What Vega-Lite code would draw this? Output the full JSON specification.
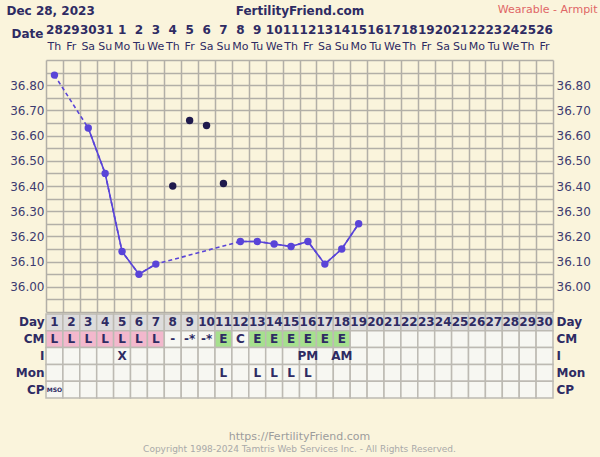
{
  "$schema": "https://vega.github.io/schema/vega-lite/v6.json",
  "background": "#faf4dc",
  "padding": {"left": 6, "top": 3, "right": 3, "bottom": 5},
  "bounds": "flush",
  "spacing": 2,
  "config": {
    "view": {"stroke": null},
    "font": "DejaVu Sans",
    "axis": {"labelFont": "DejaVu Sans", "titleFont": "DejaVu Sans"},
    "title": {"font": "DejaVu Sans", "subtitleFont": "DejaVu Sans"}
  },
  "datasets": {
    "days": [
      {"Day": 1, "date": "28", "dow": "Th", "bbt": 36.84, "disc": null, "CM": "L", "I": "", "Mon": "", "CP": "MSO"},
      {"Day": 2, "date": "29", "dow": "Fr", "bbt": null, "disc": null, "CM": "L", "I": "", "Mon": "", "CP": ""},
      {"Day": 3, "date": "30", "dow": "Sa", "bbt": 36.63, "disc": null, "CM": "L", "I": "", "Mon": "", "CP": ""},
      {"Day": 4, "date": "31", "dow": "Su", "bbt": 36.45, "disc": null, "CM": "L", "I": "", "Mon": "", "CP": ""},
      {"Day": 5, "date": "1", "dow": "Mo", "bbt": 36.14, "disc": null, "CM": "L", "I": "X", "Mon": "", "CP": ""},
      {"Day": 6, "date": "2", "dow": "Tu", "bbt": 36.05, "disc": null, "CM": "L", "I": "", "Mon": "", "CP": ""},
      {"Day": 7, "date": "3", "dow": "We", "bbt": 36.09, "disc": null, "CM": "L", "I": "", "Mon": "", "CP": ""},
      {"Day": 8, "date": "4", "dow": "Th", "bbt": null, "disc": 36.40, "CM": "-", "I": "", "Mon": "", "CP": ""},
      {"Day": 9, "date": "5", "dow": "Fr", "bbt": null, "disc": 36.66, "CM": "-*", "I": "", "Mon": "", "CP": ""},
      {"Day": 10, "date": "6", "dow": "Sa", "bbt": null, "disc": 36.64, "CM": "-*", "I": "", "Mon": "", "CP": ""},
      {"Day": 11, "date": "7", "dow": "Su", "bbt": null, "disc": 36.41, "CM": "E", "I": "", "Mon": "L", "CP": ""},
      {"Day": 12, "date": "8", "dow": "Mo", "bbt": 36.18, "disc": null, "CM": "C", "I": "", "Mon": "", "CP": ""},
      {"Day": 13, "date": "9", "dow": "Tu", "bbt": 36.18, "disc": null, "CM": "E", "I": "", "Mon": "L", "CP": ""},
      {"Day": 14, "date": "10", "dow": "We", "bbt": 36.17, "disc": null, "CM": "E", "I": "", "Mon": "L", "CP": ""},
      {"Day": 15, "date": "11", "dow": "Th", "bbt": 36.16, "disc": null, "CM": "E", "I": "", "Mon": "L", "CP": ""},
      {"Day": 16, "date": "12", "dow": "Fr", "bbt": 36.18, "disc": null, "CM": "E", "I": "PM", "Mon": "L", "CP": ""},
      {"Day": 17, "date": "13", "dow": "Sa", "bbt": 36.09, "disc": null, "CM": "E", "I": "", "Mon": "", "CP": ""},
      {"Day": 18, "date": "14", "dow": "Su", "bbt": 36.15, "disc": null, "CM": "E", "I": "AM", "Mon": "", "CP": ""},
      {"Day": 19, "date": "15", "dow": "Mo", "bbt": 36.25, "disc": null, "CM": "", "I": "", "Mon": "", "CP": ""},
      {"Day": 20, "date": "16", "dow": "Tu", "bbt": null, "disc": null, "CM": "", "I": "", "Mon": "", "CP": ""},
      {"Day": 21, "date": "17", "dow": "We", "bbt": null, "disc": null, "CM": "", "I": "", "Mon": "", "CP": ""},
      {"Day": 22, "date": "18", "dow": "Th", "bbt": null, "disc": null, "CM": "", "I": "", "Mon": "", "CP": ""},
      {"Day": 23, "date": "19", "dow": "Fr", "bbt": null, "disc": null, "CM": "", "I": "", "Mon": "", "CP": ""},
      {"Day": 24, "date": "20", "dow": "Sa", "bbt": null, "disc": null, "CM": "", "I": "", "Mon": "", "CP": ""},
      {"Day": 25, "date": "21", "dow": "Su", "bbt": null, "disc": null, "CM": "", "I": "", "Mon": "", "CP": ""},
      {"Day": 26, "date": "22", "dow": "Mo", "bbt": null, "disc": null, "CM": "", "I": "", "Mon": "", "CP": ""},
      {"Day": 27, "date": "23", "dow": "Tu", "bbt": null, "disc": null, "CM": "", "I": "", "Mon": "", "CP": ""},
      {"Day": 28, "date": "24", "dow": "We", "bbt": null, "disc": null, "CM": "", "I": "", "Mon": "", "CP": ""},
      {"Day": 29, "date": "25", "dow": "Th", "bbt": null, "disc": null, "CM": "", "I": "", "Mon": "", "CP": ""},
      {"Day": 30, "date": "26", "dow": "Fr", "bbt": null, "disc": null, "CM": "", "I": "", "Mon": "", "CP": ""}
    ]
  },
  "vconcat": [
    {
      "width": 507,
      "height": 37,
      "data": {"name": "days"},
      "layer": [
        {
          "mark": {"type": "text", "fontWeight": "bold", "fontSize": 12, "color": "#2e2b63"},
          "encoding": {
            "x": {"field": "Day", "type": "ordinal", "scale": {"type": "band", "paddingInner": 0, "paddingOuter": 0},
              "axis": {"orient": "top", "labels": false, "ticks": false, "domain": false, "grid": false,
                "title": "FertilityFriend.com", "titleX": 253.5, "titleY": -11, "titleAlign": "center", "titleBaseline": "middle",
                "titleFontSize": 12, "titleFontWeight": "bold", "titleColor": "#2e2b63"}},
            "y": {"datum": "date", "type": "nominal", "scale": {"domain": ["date", "dow"], "paddingInner": 0, "paddingOuter": 0},
              "axis": {"orient": "left", "ticks": false, "domain": false, "labelExpr": "datum.value == 'date' ? 'Date' : ''",
                "labelFontWeight": "bold", "labelFontSize": 12, "labelColor": "#2e2b63", "labelPadding": 3, "labelOffset": 3,
                "title": "Dec 28, 2023", "titleAngle": 0, "titleAlign": "left", "titleBaseline": "middle", "titleX": -40, "titleY": -11,
                "titleFontSize": 12, "titleFontWeight": "bold", "titleColor": "#2e2b63"}},
            "text": {"field": "date"}
          }
        },
        {
          "mark": {"type": "text", "fontSize": 11, "color": "#2e2b63", "dy": -2},
          "encoding": {
            "x": {"field": "Day", "type": "ordinal", "scale": {"type": "band", "paddingInner": 0, "paddingOuter": 0},
              "axis": {"orient": "top", "labels": false, "ticks": false, "domain": false, "grid": false,
                "title": "FertilityFriend.com", "titleX": 253.5, "titleY": -11, "titleAlign": "center", "titleBaseline": "middle",
                "titleFontSize": 12, "titleFontWeight": "bold", "titleColor": "#2e2b63"}},
            "y": {"datum": "dow", "type": "nominal",
              "axis": {"orient": "right", "labels": false, "ticks": false, "domain": false,
                "title": "Wearable - Armpit", "titleAngle": 0, "titleAlign": "right", "titleBaseline": "middle", "titleX": 44, "titleY": -12,
                "titleFontSize": 11, "titleFontWeight": "normal", "titleColor": "#e06666"}},
            "text": {"field": "dow"}
          }
        }
      ],
      "resolve": {"axis": {"y": "independent"}}
    },
    {
      "width": 507,
      "height": 252,
      "data": {"name": "days"},
      "encoding": {
        "x": {"field": "Day", "type": "quantitative", "scale": {"domain": [0.5, 30.5], "nice": false, "zero": false},
          "axis": {"values": [0.5, 1.5, 2.5, 3.5, 4.5, 5.5, 6.5, 7.5, 8.5, 9.5, 10.5, 11.5, 12.5, 13.5, 14.5, 15.5, 16.5, 17.5, 18.5, 19.5, 20.5, 21.5, 22.5, 23.5, 24.5, 25.5, 26.5, 27.5, 28.5, 29.5, 30.5],
            "grid": true, "gridColor": "#b2afa7", "gridWidth": 1.5, "labels": false, "ticks": false, "domain": false, "title": null}}
      },
      "layer": [
        {
          "transform": [{"filter": {"field": "bbt", "valid": true}}],
          "mark": {"type": "line", "color": "#5944d8", "strokeWidth": 1.6, "strokeDash": [4, 3]},
          "encoding": {
            "y": {"field": "bbt", "type": "quantitative", "scale": {"domain": [35.9, 36.9], "nice": false, "zero": false},
              "axis": {"orient": "left", "values": [35.9, 35.95, 36, 36.05, 36.1, 36.15, 36.2, 36.25, 36.3, 36.35, 36.4, 36.45, 36.5, 36.55, 36.6, 36.65, 36.7, 36.75, 36.8, 36.85, 36.9],
                "grid": true, "gridColor": "#b2afa7", "gridWidth": 1.5, "ticks": false, "domain": false, "title": null,
                "labelOverlap": false, "labelFlush": false, "labelFontSize": 12, "labelColor": "#3d3b70", "labelPadding": 2,
                "labelExpr": "(datum.value > 35.99 && datum.value < 36.81 && abs(datum.value * 10 - round(datum.value * 10)) < 0.01) ? format(datum.value, '.2f') : ''"}}
          }
        },
        {
          "mark": {"type": "line", "color": "#5944d8", "strokeWidth": 1.6, "invalid": "break-paths-show-domains"},
          "encoding": {"y": {"field": "bbt", "type": "quantitative", "axis": null}}
        },
        {
          "transform": [{"filter": {"field": "bbt", "valid": true}}],
          "mark": {"type": "circle", "color": "#5944d8", "size": 55, "opacity": 1},
          "encoding": {"y": {"field": "bbt", "type": "quantitative", "axis": null}}
        },
        {
          "transform": [{"filter": {"field": "disc", "valid": true}}],
          "mark": {"type": "circle", "color": "#1f1a4d", "size": 55, "opacity": 1},
          "encoding": {
            "y": {"field": "disc", "type": "quantitative",
              "axis": {"orient": "right", "values": [35.9, 35.95, 36, 36.05, 36.1, 36.15, 36.2, 36.25, 36.3, 36.35, 36.4, 36.45, 36.5, 36.55, 36.6, 36.65, 36.7, 36.75, 36.8, 36.85, 36.9],
                "grid": false, "ticks": false, "domain": false, "title": null,
                "labelOverlap": false, "labelFlush": false, "labelFontSize": 12, "labelColor": "#3d3b70", "labelPadding": 3,
                "labelExpr": "(datum.value > 35.99 && datum.value < 36.81 && abs(datum.value * 10 - round(datum.value * 10)) < 0.01) ? format(datum.value, '.2f') : ''"}}
          }
        }
      ],
      "resolve": {"axis": {"y": "independent"}}
    },
    {
      "width": 507,
      "height": 84,
      "data": {"name": "days"},
      "transform": [{"fold": ["Day", "CM", "I", "Mon", "CP"], "as": ["row", "val"]}],
      "title": {
        "text": "https://FertilityFriend.com",
        "subtitle": "Copyright 1998-2024 Tamtris Web Services Inc. - All Rights Reserved.",
        "orient": "bottom", "anchor": "middle", "fontSize": 11, "fontWeight": "normal", "color": "#9c9c9c",
        "subtitleFontSize": 9, "subtitleColor": "#a9a9a9", "offset": 32, "subtitlePadding": 3
      },
      "layer": [
        {
          "mark": {"type": "rect", "stroke": "#bdbab3", "strokeWidth": 1.5},
          "encoding": {
            "x": {"field": "Day", "type": "ordinal", "scale": {"type": "band", "paddingInner": 0, "paddingOuter": 0}, "axis": null},
            "y": {"field": "row", "type": "nominal", "scale": {"domain": ["Day", "CM", "I", "Mon", "CP"], "paddingInner": 0, "paddingOuter": 0},
              "axis": {"orient": "left", "ticks": false, "domain": false, "title": null, "labelFontWeight": "bold", "labelFontSize": 12, "labelColor": "#2e2b63", "labelPadding": 2}},
            "fill": {
              "condition": [
                {"test": "datum.row == 'Day'", "value": "#dddcdc"},
                {"test": "datum.row == 'CM' && datum.val == 'L'", "value": "#f3b8cd"},
                {"test": "datum.row == 'CM' && datum.val == 'E'", "value": "#a6e08e"}
              ],
              "value": "#f7f7f2"
            }
          }
        },
        {
          "mark": {"type": "text", "fontWeight": "bold", "color": "#2e2b63"},
          "encoding": {
            "x": {"field": "Day", "type": "ordinal", "scale": {"type": "band", "paddingInner": 0, "paddingOuter": 0}, "axis": null},
            "y": {"field": "row", "type": "nominal",
              "axis": {"orient": "right", "ticks": false, "domain": false, "title": null, "labelFontWeight": "bold", "labelFontSize": 12, "labelColor": "#2e2b63", "labelPadding": 3}},
            "text": {"field": "val", "type": "nominal"},
            "size": {"condition": {"test": "datum.val == 'MSO'", "value": 6}, "value": 12}
          }
        }
      ],
      "resolve": {"axis": {"y": "independent"}}
    }
  ]
}
